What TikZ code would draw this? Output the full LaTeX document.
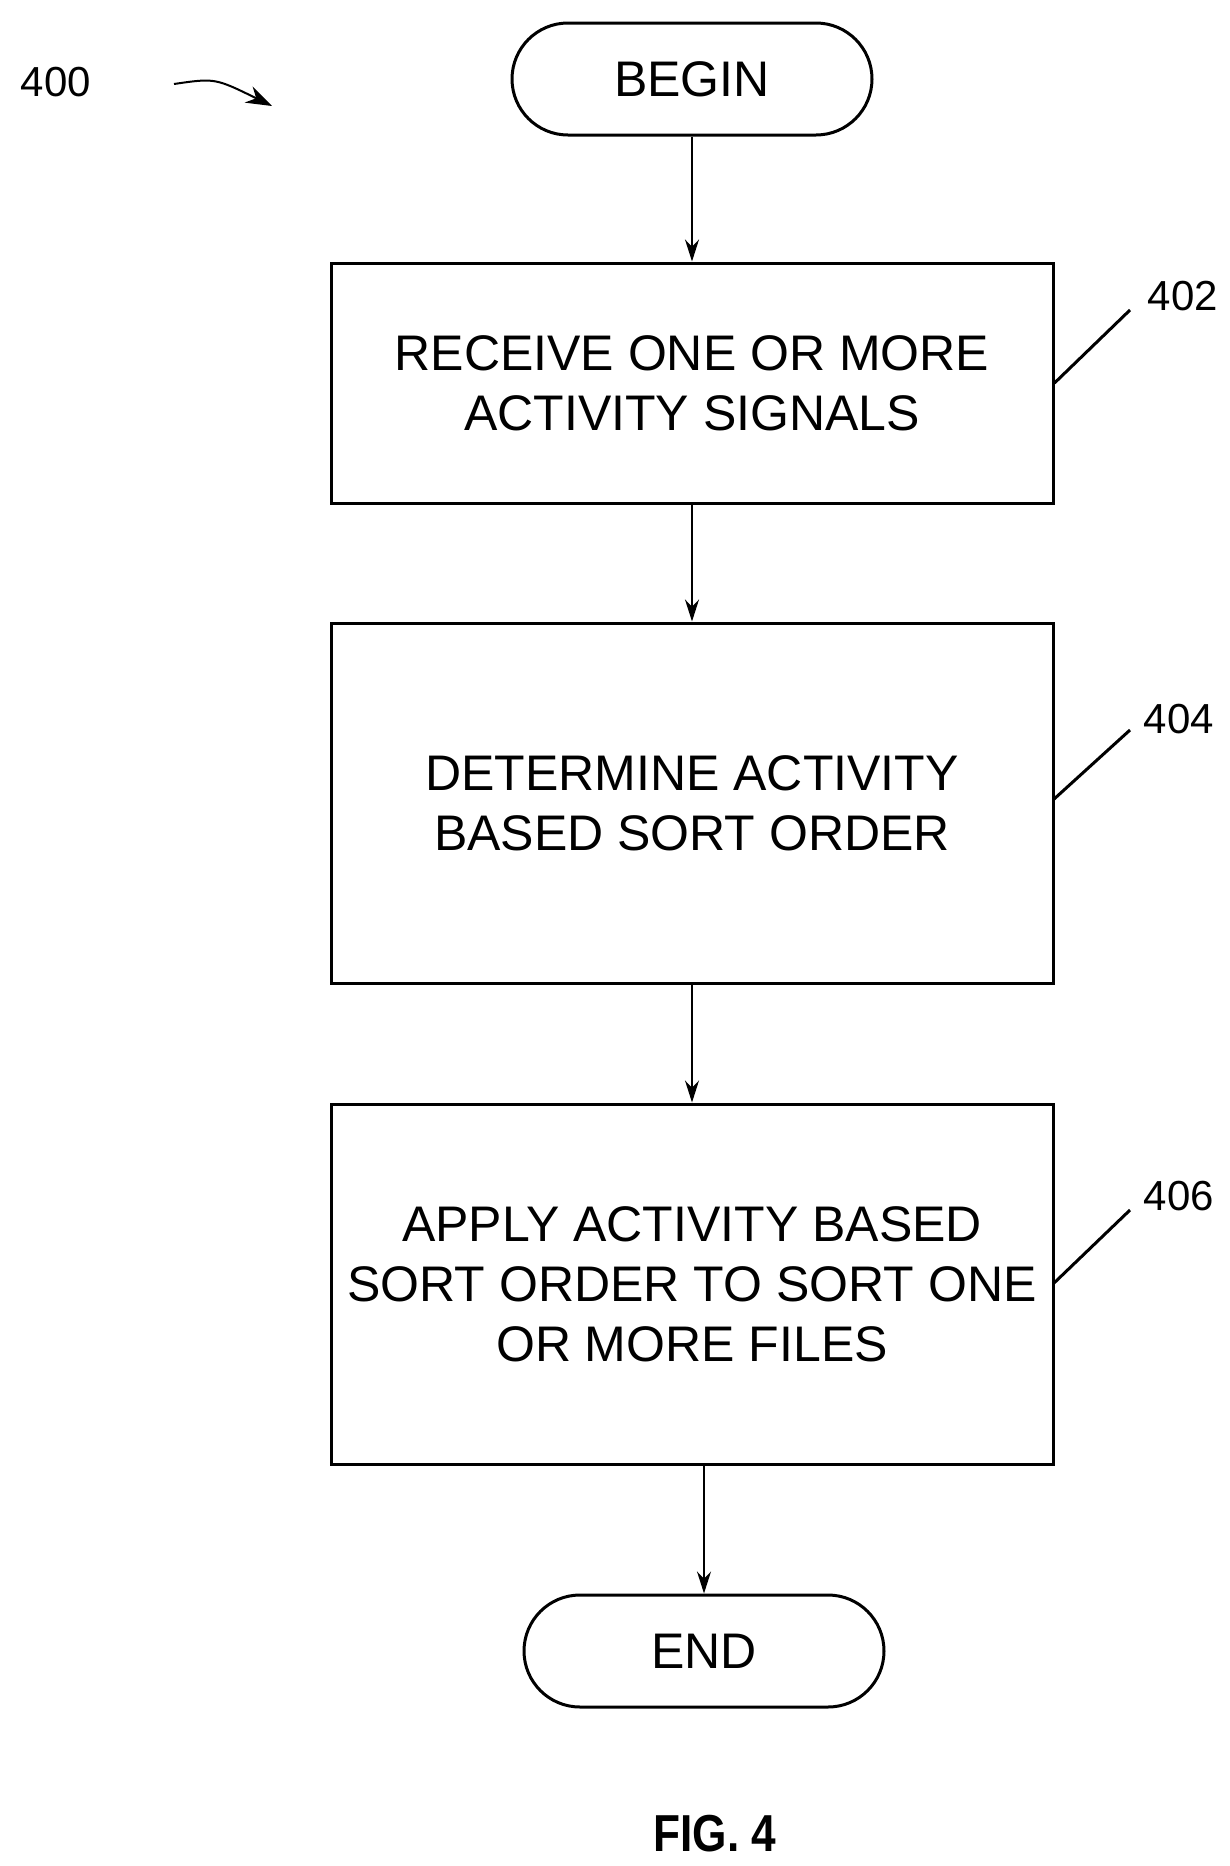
\documentclass[tikz,border=0pt]{standalone}
\usepackage{fontspec}
\setmainfont{Liberation Sans}
\usetikzlibrary{arrows.meta}
\begin{document}
\begin{tikzpicture}[x=1pt,y=-1pt,
  line width=3pt,
  txt/.style={font=\fontsize{50}{60}\selectfont,align=center},
  box/.style={draw,rectangle,minimum width=722pt,txt},
  term/.style={draw,rounded corners=56pt,minimum width=360pt,minimum height=112pt,txt},
  arr/.style={line width=1.5pt,-{Stealth[length=22pt,width=14pt]}},
  lead/.style={line width=3pt},
  lab/.style={font=\fontsize{42}{50}\selectfont}]
\useasboundingbox (0,0) rectangle (1230,1866);
\node[term] (begin) at (692,79) {BEGIN};
\node[box,minimum height=240pt] (b402) at (692,383) {RECEIVE ONE OR MORE\\ACTIVITY SIGNALS};
\node[box,minimum height=360pt] (b404) at (692,803) {DETERMINE ACTIVITY\\BASED SORT ORDER};
\node[box,minimum height=360pt] (b406) at (692,1284) {APPLY ACTIVITY BASED\\SORT ORDER TO SORT ONE\\OR MORE FILES};
\node[term] (end) at (704,1651) {END};
\draw[arr] (begin) -- (b402);
\draw[arr] (b402) -- (b404);
\draw[arr] (b404) -- (b406);
\draw[arr] (b406.south -| end.north) -- (end);
\coordinate (l402) at (1130,310);
\coordinate (l404) at (1130,730);
\coordinate (l406) at (1130,1210);
\draw[lead] (b402.east) -- (l402);
\draw[lead] (1053,800) -- (l404);
\draw[lead] (1053,1284) -- (l406);
\node[lab] (t402) at (1183,296) {402};
\node[lab] (t404) at (1179,719) {404};
\node[lab] (t406) at (1179,1196) {406};
\node[lab] (t400) at (56,82) {400};
\coordinate (a0) at (174,84);
\coordinate (a1) at (272,106);
\draw[line width=2pt,-{Stealth[length=26pt,width=18pt]}] (a0) .. controls (215,78) .. (a1);
\node[font=\fontsize{52}{60}\selectfont\bfseries] (fig) at (715,1834) {\addfontfeature{FakeStretch=0.85}FIG. 4};
\end{tikzpicture}
\end{document}
